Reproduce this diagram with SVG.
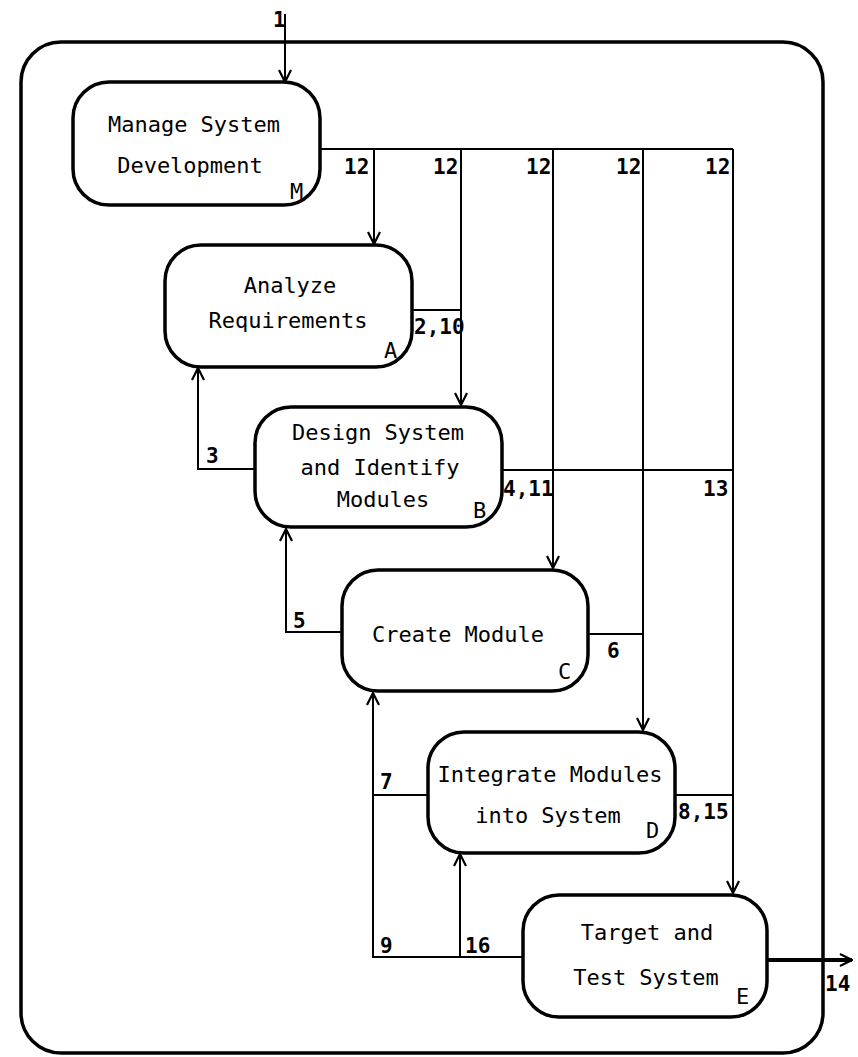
<svg xmlns="http://www.w3.org/2000/svg" width="858" height="1057" viewBox="0 0 858 1057">
  <style>
    .frame { fill: none; stroke: #000; stroke-width: 3.5; }
    .proc { fill: #fff; stroke: #000; stroke-width: 3.5; }
    .flow { fill: none; stroke: #000; stroke-width: 2; }
    .flow-thick { fill: none; stroke: #000; stroke-width: 4; }
    .title { font-family: "DejaVu Sans Mono", "Liberation Mono", monospace; font-size: 22px; fill: #000; text-anchor: middle; }
    .tag { font-family: "DejaVu Sans Mono", "Liberation Mono", monospace; font-size: 22px; fill: #000; }
    .num { font-family: "DejaVu Sans Mono", "Liberation Mono", monospace; font-size: 21px; font-weight: bold; fill: #000; }
  </style>
  <defs>
    <marker id="arrow" viewBox="0 0 14 14" refX="13" refY="7" markerWidth="14" markerHeight="14" markerUnits="userSpaceOnUse" orient="auto">
      <path d="M1,1 L13,7 L1,13" fill="none" stroke="#000" stroke-width="2.2"/>
    </marker>
  </defs>

  <rect width="858" height="1057" fill="#fff"/>

  <!-- system boundary -->
  <rect id="boundary" class="frame" x="21" y="42" width="802" height="1011" rx="40" ry="40"/>

  <!-- flows -->
  <g id="connectors">
    <!-- 1: input to M -->
    <path class="flow" d="M285,14 V82" marker-end="url(#arrow)"/>
    <!-- 12: control bus from M -->
    <path class="flow" d="M320,149 H733"/>
    <path class="flow" d="M374,149 V244" marker-end="url(#arrow)"/>
    <path class="flow" d="M461,149 V405" marker-end="url(#arrow)"/>
    <path class="flow" d="M553,149 V568" marker-end="url(#arrow)"/>
    <path class="flow" d="M643,149 V730" marker-end="url(#arrow)"/>
    <path class="flow" d="M733,149 V893" marker-end="url(#arrow)"/>
    <!-- 2,10: A to bus -->
    <path class="flow" d="M412,310 H461"/>
    <!-- 3: B back to A -->
    <path class="flow" d="M255,469 H198 V368" marker-end="url(#arrow)"/>
    <!-- 4,11 / 13: B to bus -->
    <path class="flow" d="M502,470 H733"/>
    <!-- 5: C back to B -->
    <path class="flow" d="M342,632 H286 V529" marker-end="url(#arrow)"/>
    <!-- 6: C to bus -->
    <path class="flow" d="M588,634 H643"/>
    <!-- 7 / 9: D and E back to C -->
    <path class="flow" d="M428,795 H373"/>
    <path class="flow" d="M523,957 H373 V693" marker-end="url(#arrow)"/>
    <!-- 16: E back to D -->
    <path class="flow" d="M460,957 V854" marker-end="url(#arrow)"/>
    <!-- 8,15: D to bus -->
    <path class="flow" d="M675,795 H733"/>
    <!-- 14: output -->
    <path class="flow-thick" d="M767,960 H852" marker-end="url(#arrow)"/>
  </g>

  <!-- flow labels -->
  <g id="flow-labels">
    <text class="num" x="273" y="27">1</text>
    <text class="num" x="344" y="174">12</text>
    <text class="num" x="433" y="174">12</text>
    <text class="num" x="526" y="174">12</text>
    <text class="num" x="616" y="174">12</text>
    <text class="num" x="705" y="174">12</text>
    <text class="num" x="414" y="334">2,10</text>
    <text class="num" x="206" y="463">3</text>
    <text class="num" x="503" y="496">4,11</text>
    <text class="num" x="703" y="496">13</text>
    <text class="num" x="293" y="628">5</text>
    <text class="num" x="607" y="658">6</text>
    <text class="num" x="380" y="789">7</text>
    <text class="num" x="678" y="819">8,15</text>
    <text class="num" x="380" y="953">9</text>
    <text class="num" x="465" y="953">16</text>
    <text class="num" x="825" y="991">14</text>
  </g>

  <!-- processes -->
  <g id="node-M">
    <rect class="proc" x="73" y="82" width="247" height="123" rx="36" ry="36"/>
    <text class="title" x="194" y="132">Manage System</text>
    <text class="title" x="190" y="173">Development</text>
    <text class="tag" x="290" y="199">M</text>
  </g>

  <g id="node-A">
    <rect class="proc" x="165" y="245" width="247" height="122" rx="36" ry="36"/>
    <text class="title" x="290" y="293">Analyze</text>
    <text class="title" x="288" y="328">Requirements</text>
    <text class="tag" x="384" y="358">A</text>
  </g>

  <g id="node-B">
    <rect class="proc" x="255" y="407" width="247" height="120" rx="36" ry="36"/>
    <text class="title" x="378" y="440">Design System</text>
    <text class="title" x="380" y="475">and Identify</text>
    <text class="title" x="383" y="507">Modules</text>
    <text class="tag" x="473" y="518">B</text>
  </g>

  <g id="node-C">
    <rect class="proc" x="342" y="570" width="246" height="121" rx="36" ry="36"/>
    <text class="title" x="458" y="642">Create Module</text>
    <text class="tag" x="558" y="679">C</text>
  </g>

  <g id="node-D">
    <rect class="proc" x="428" y="732" width="247" height="121" rx="36" ry="36"/>
    <text class="title" x="550" y="782">Integrate Modules</text>
    <text class="title" x="548" y="823">into System</text>
    <text class="tag" x="646" y="838">D</text>
  </g>

  <g id="node-E">
    <rect class="proc" x="523" y="895" width="244" height="122" rx="36" ry="36"/>
    <text class="title" x="647" y="940">Target and</text>
    <text class="title" x="646" y="985">Test System</text>
    <text class="tag" x="736" y="1004">E</text>
  </g>
</svg>
